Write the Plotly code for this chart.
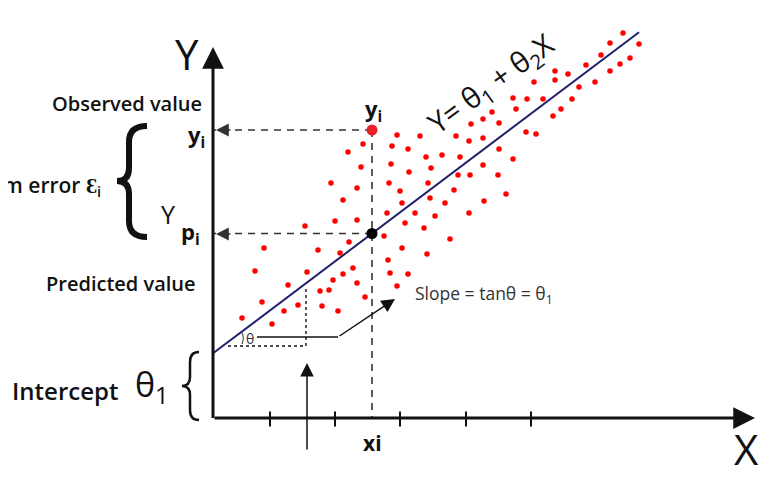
import plotly.graph_objects as go

# ---------------- data (x/y in chart units, origin at the axes corner) ----------------
dots_x = [184, 207, 243, 258, 150, 135, 179, 195, 256, 213, 229, 247, 148, 178, 218, 196, 245, 257,
          118, 176, 215, 144, 187, 241, 130, 217, 189, 232, 174, 202, 222, 256, 122, 144, 192, 211,
          92, 171, 136, 237, 51, 105, 189,
          410, 397, 426, 388, 373, 417, 407, 397, 342, 355, 342, 321, 382, 366, 300, 314, 330, 359,
          303, 348, 340, 279, 270, 286, 270, 313, 323, 286, 300, 270, 285, 293, 271,
          127, 214, 42, 94, 130, 140, 175, 177, 195, 75, 120, 144, 107, 116, 184, 49, 152, 85, 109,
          71, 125, 29, 59]
dots_y = [283, 282, 282, 294, 274, 266, 272, 269, 277, 261, 263, 261, 251, 254, 250, 246, 243, 243,
          235, 235, 235, 230, 227, 228, 218, 220, 215, 215, 205, 205, 202, 205, 197, 198, 195, 190,
          192, 182, 176, 179, 170, 168, 170,
          385, 375, 374, 363, 353, 360, 354, 347, 347, 344, 338, 336, 336, 331, 320, 319, 319, 319,
          309, 309, 302, 306, 299, 295, 280, 286, 284, 269, 259, 253, 243, 224, 217,
          165, 164, 147, 146, 144, 150, 158, 145, 144, 133, 138, 135, 127, 128, 132, 116, 121, 113, 112,
          107, 107, 100, 94]

theta1 = 64.7          # intercept
theta2 = 0.7535        # slope
line_x = [0, 426]
xi = 159
yi_observed = 288
x_ticks = [57, 122, 187, 253, 318]

# ---------------- helpers for decoration placement (screen pixel -> chart units) ----------------
OX, OY = 213, 418      # screen pixel of the axes corner
PAGE = 8               # page margin around the figure


def P(px, py):
    return px - OX, OY - py


def path(cmds):
    out = []
    for c in cmds:
        if isinstance(c, str):
            out.append(c)
        else:
            x, y = P(*c)
            out.append(f"{x},{y}")
    return " ".join(out)


FONT = "Open Sans"
fig = go.Figure()

# regression line
line_y = [theta1 + theta2 * v for v in line_x]
fig.add_trace(go.Scatter(x=line_x, y=line_y, mode="lines",
                         line=dict(color="#1f1f6b", width=2), hoverinfo="skip"))

# scatter dots
fig.add_trace(go.Scatter(x=dots_x, y=dots_y, mode="markers",
                         marker=dict(color="#ff0000", size=5.5, line=dict(width=0)), hoverinfo="skip"))

y_pred = theta1 + theta2 * xi

# dashed guides
dash_col = "#333333"
fig.add_trace(go.Scatter(x=[xi, 0], y=[yi_observed, yi_observed], mode="lines",
                         line=dict(color=dash_col, width=1.6, dash="7px,6px"), hoverinfo="skip"))
fig.add_trace(go.Scatter(x=[xi, 0], y=[y_pred, y_pred], mode="lines",
                         line=dict(color=dash_col, width=1.6, dash="7px,6px"), hoverinfo="skip"))
fig.add_trace(go.Scatter(x=[xi, xi], y=[yi_observed, 0], mode="lines",
                         line=dict(color=dash_col, width=1.6, dash="7px,6px"), hoverinfo="skip"))

# dotted slope triangle
fig.add_trace(go.Scatter(x=[P(228, 346)[0], P(306, 346)[0], P(306, 287)[0]],
                         y=[P(228, 346)[1], P(306, 346)[1], P(306, 287)[1]], mode="lines",
                         line=dict(color="#111", width=1.4, dash="dot"), hoverinfo="skip"))

# slope pointer line
fig.add_trace(go.Scatter(x=[P(257, 337)[0], P(338, 337)[0]], y=[P(257, 337)[1], P(338, 337)[1]],
                         mode="lines", line=dict(color="#111", width=1.5), hoverinfo="skip"))

# ticks
tx, ty = [], []
for t in x_ticks:
    tx += [t, t, None]
    ty += [-8.5, 6.5, None]
fig.add_trace(go.Scatter(x=tx, y=ty, mode="lines", line=dict(color="#111", width=2), hoverinfo="skip"))

# highlighted points
fig.add_trace(go.Scatter(x=[xi], y=[yi_observed], mode="markers",
                         marker=dict(color="#e8202a", size=11), hoverinfo="skip"))
fig.add_trace(go.Scatter(x=[xi], y=[y_pred], mode="markers",
                         marker=dict(color="#000000", size=11), hoverinfo="skip"))

annotations = []


def arrow(tip, tail, width, size, color="#111"):
    tx_, ty_ = P(*tip)
    ax_, ay_ = P(*tail)
    annotations.append(dict(x=tx_, y=ty_, ax=ax_, ay=ay_, xref="x", yref="y", axref="x", ayref="y",
                            text="", showarrow=True, arrowhead=2, arrowwidth=width, arrowsize=size,
                            arrowcolor=color, standoff=0, startstandoff=0))


# axes
arrow((755, 418), (213, 418), 3, 1.45)
arrow((213, 47), (213, 419.5), 3, 1.45)
# dashed arrow heads
arrow((216, 130), (232, 130), 1.6, 1.6, dash_col)
arrow((216, 234), (232, 234), 1.6, 1.6, dash_col)
# slope pointer arrow
arrow((395, 299), (338, 337), 1.5, 1.8)
# up arrow
arrow((307, 363), (307, 451), 1.5, 1.8)


def text(px, py, s, size, weight="normal", color="#111", xanchor="center", angle=0, family=FONT):
    x, y = P(px, py)
    annotations.append(dict(x=x, y=y, xref="x", yref="y", text=s, showarrow=False,
                            xanchor=xanchor, yanchor="middle", textangle=angle,
                            font=dict(family=family, size=size, color=color, weight=weight)))


text(187, 53, "Y", 42)
text(746, 448, "X", 42)
text(372, 443, "xi", 21, "bold")
text(204, 103, "Observed value", 20, 600, xanchor="right")
text(198, 283, "Predicted value", 20, 600, xanchor="right")
text(196, 136, "y<sub>i</sub>", 22, "bold")
text(373, 110, "y<sub>i</sub>", 22, "bold")
text(168, 214, "Y", 25)
text(190, 233, "p<sub>i</sub>", 22, "bold")
text(103, 186, "Random error Ɛ<sub>i</sub>", 21, 600, xanchor="right")
text(120, 390, "Intercept", 24, 600, xanchor="right")
text(152, 386, "θ<sub>1</sub>", 34)
text(413, 294, "Slope = tanθ = θ<sub>1</sub>", 17.5, color="#333", xanchor="left")
text(250, 338, "θ", 14, color="#333")
text(491, 84, "Y= θ<sub>1</sub> + θ<sub>2</sub>X", 29, angle=-36)

fig.update_layout(annotations=annotations)

# braces
fig.add_shape(type="path", xref="x", yref="y",
              path=path(["M", (147, 126), "Q", (129, 126), (129, 142), "L", (129, 168),
                         "Q", (129, 181), (117, 181), "Q", (129, 181), (129, 194), "L", (129, 221),
                         "Q", (129, 237), (147, 237)]),
              line=dict(color="#111", width=6))
fig.add_shape(type="path", xref="x", yref="y",
              path=path(["M", (199, 352), "Q", (190, 352), (190, 362), "L", (190, 377),
                         "Q", (190, 386), (182, 386), "Q", (190, 386), (190, 395), "L", (190, 410),
                         "Q", (190, 420), (199, 420)]),
              line=dict(color="#111", width=2.5))
# angle arc
fig.add_shape(type="path", xref="x", yref="y",
              path=path(["M", (241, 331), "Q", (245, 337), (242, 344)]),
              line=dict(color="#333", width=1))

fig.update_layout(
    width=768, height=480, margin=dict(l=0, r=0, t=0, b=0),
    paper_bgcolor="white", plot_bgcolor="white", showlegend=False,
    xaxis=dict(range=[PAGE - OX, 768 + PAGE - OX], visible=False, fixedrange=True),
    yaxis=dict(range=[OY - 480 - PAGE, OY - PAGE], visible=False, fixedrange=True),
)

fig.write_html("out.html")
